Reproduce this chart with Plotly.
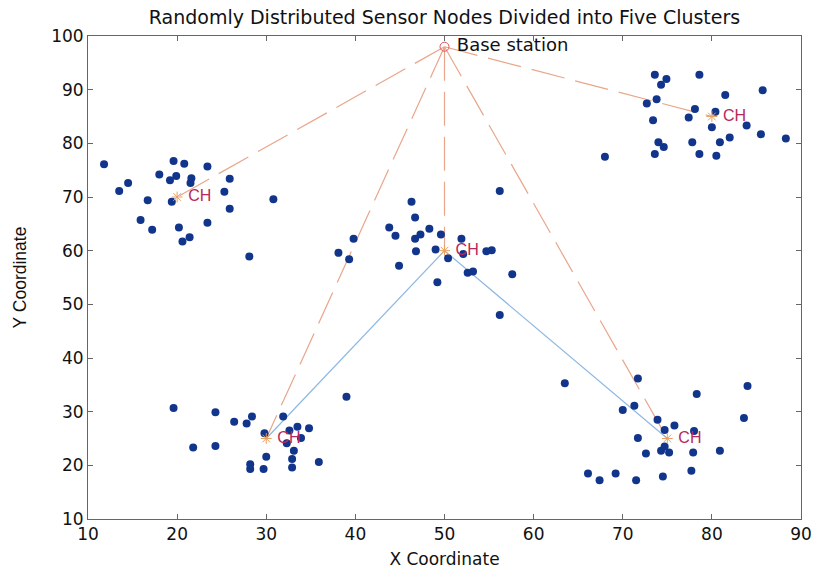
import plotly.graph_objects as go

# Sensor node coordinates
c1_x = [11.8, 19.6, 20.8, 23.4, 18.0, 19.9, 19.2, 21.6, 21.5, 14.5, 25.9, 13.5, 25.3, 16.7, 19.4, 30.8, 25.9, 15.9, 17.2, 20.2, 23.4, 21.4, 20.6, 28.1]
c1_y = [76.1, 76.7, 76.2, 75.7, 74.2, 73.9, 73.1, 73.5, 72.6, 72.6, 73.4, 71.1, 71.0, 69.4, 69.1, 69.6, 67.8, 65.7, 63.9, 64.3, 65.2, 62.5, 61.7, 58.9]

c2_x = [56.2, 46.3, 46.7, 43.8, 44.5, 48.3, 47.3, 46.7, 49.6, 51.9, 39.8, 38.1, 39.3, 46.8, 49.0, 50.4, 52.1, 54.7, 55.3, 44.9, 52.6, 53.2, 57.6, 49.2, 56.2]
c2_y = [71.1, 69.1, 66.2, 64.3, 62.8, 64.1, 63.0, 62.2, 63.0, 62.2, 62.2, 59.6, 58.4, 59.9, 60.2, 58.6, 59.4, 59.9, 60.1, 57.2, 55.9, 56.1, 55.6, 54.1, 48.0]

c3_x = [73.6, 74.9, 74.3, 78.6, 85.7, 81.5, 72.7, 73.8, 78.1, 80.4, 77.4, 73.4, 80.0, 83.9, 85.5, 88.3, 82.0, 74.0, 74.6, 77.8, 80.9, 73.6, 78.6, 80.5, 68.0]
c3_y = [92.8, 92.0, 90.9, 92.8, 89.9, 89.0, 87.4, 88.2, 86.4, 85.9, 84.8, 84.3, 83.0, 83.3, 81.7, 80.9, 81.1, 80.2, 79.3, 80.2, 80.2, 78.0, 78.0, 77.7, 77.5]

c4_x = [19.6, 24.3, 28.4, 26.4, 27.8, 31.9, 29.8, 33.5, 34.8, 32.6, 33.9, 32.3, 33.1, 21.8, 24.3, 30.0, 32.9, 35.9, 28.2, 28.2, 29.7, 32.9, 39.0]
c4_y = [30.7, 29.9, 29.1, 28.1, 27.8, 29.1, 26.0, 27.2, 26.9, 26.5, 25.1, 24.1, 22.7, 23.3, 23.6, 21.6, 21.2, 20.6, 20.2, 19.3, 19.3, 19.6, 32.8]

c5_x = [63.5, 71.7, 84.0, 78.3, 70.0, 71.3, 83.6, 73.9, 75.8, 74.7, 78.0, 71.7, 74.7, 74.3, 75.2, 72.6, 77.9, 80.9, 66.1, 67.4, 69.2, 71.5, 74.5, 77.7]
c5_y = [35.3, 36.2, 34.8, 33.3, 30.3, 31.1, 28.8, 28.5, 27.4, 26.6, 26.4, 25.1, 23.5, 22.7, 22.4, 22.2, 22.4, 22.7, 18.5, 17.2, 18.5, 17.2, 17.9, 19.0]

ch_x = [20, 50, 80, 30, 75]
ch_y = [70, 60, 85, 25, 25]
bs_x = [50]
bs_y = [98]
# multi-hop links (blue): from middle CH to bottom CHs
link_from = [1, 1]
link_to = [3, 4]

xticks = [10, 20, 30, 40, 50, 60, 70, 80, 90]
yticks = [10, 20, 30, 40, 50, 60, 70, 80, 90, 100]

fig = go.Figure()

# dashed lines from base station to each CH
for cx, cy in zip(ch_x, ch_y):
    fig.add_trace(go.Scatter(x=[bs_x[0], cx], y=[bs_y[0], cy], mode="lines",
                             line=dict(color="#E9A68A", width=1.2, dash="34px,11px"),
                             showlegend=False, hoverinfo="skip"))

# blue links
for a, b in zip(link_from, link_to):
    fig.add_trace(go.Scatter(x=[ch_x[a], ch_x[b]], y=[ch_y[a], ch_y[b]], mode="lines",
                             line=dict(color="#8DB8E2", width=1.2),
                             showlegend=False, hoverinfo="skip"))

all_x = c1_x + c2_x + c3_x + c4_x + c5_x
all_y = c1_y + c2_y + c3_y + c4_y + c5_y
fig.add_trace(go.Scatter(x=all_x, y=all_y, mode="markers",
                         marker=dict(color="#12358C", size=8, line=dict(width=0)),
                         showlegend=False))

# CH markers
fig.add_trace(go.Scatter(x=ch_x, y=ch_y, mode="markers+text", text=["\u00a0CH"] * 5,
                         textposition="middle right",
                         textfont=dict(family="Liberation Sans, Arial", size=16, color="#B8285A"),
                         marker=dict(symbol="asterisk-open", size=9, color="#E8A060",
                                     line=dict(color="#E8A060", width=1)),
                         showlegend=False))

# base station
fig.add_trace(go.Scatter(x=bs_x, y=bs_y, mode="markers+text", text=["\u00a0Base station"],
                         textposition="middle right",
                         textfont=dict(family="DejaVu Sans", size=18, color="#111111"),
                         marker=dict(symbol="circle-open", size=9, color="#E05060",
                                     line=dict(color="#E05060", width=1)),
                         showlegend=False))

axis_common = dict(showgrid=False, zeroline=False, showline=True, mirror="ticks",
                   linecolor="#666666", linewidth=1, ticks="inside", ticklen=5,
                   tickcolor="#666666", automargin=False,
                   tickfont=dict(family="DejaVu Sans", size=17, color="#111111"))

fig.update_layout(
    width=814, height=573,
    margin=dict(l=88, r=13, t=36, b=54),
    paper_bgcolor="white", plot_bgcolor="white",
    title=dict(text="Randomly Distributed Sensor Nodes Divided into Five Clusters",
               xref="paper", x=0.5, xanchor="center", y=0.97, yanchor="middle",
               font=dict(family="DejaVu Sans", size=19, color="#111111")),
    xaxis=dict(range=[10, 90], tickvals=xticks,
               title=dict(text="X Coordinate", standoff=9,
                          font=dict(family="DejaVu Sans", size=17, color="#111111")),
               **axis_common),
    yaxis=dict(range=[10, 100], tickvals=yticks,
               title=dict(text="Y Coordinate", standoff=20,
                          font=dict(family="Liberation Sans, Arial", size=17.5, color="#111111")),
               **axis_common),
)

fig.write_html("out.html")
